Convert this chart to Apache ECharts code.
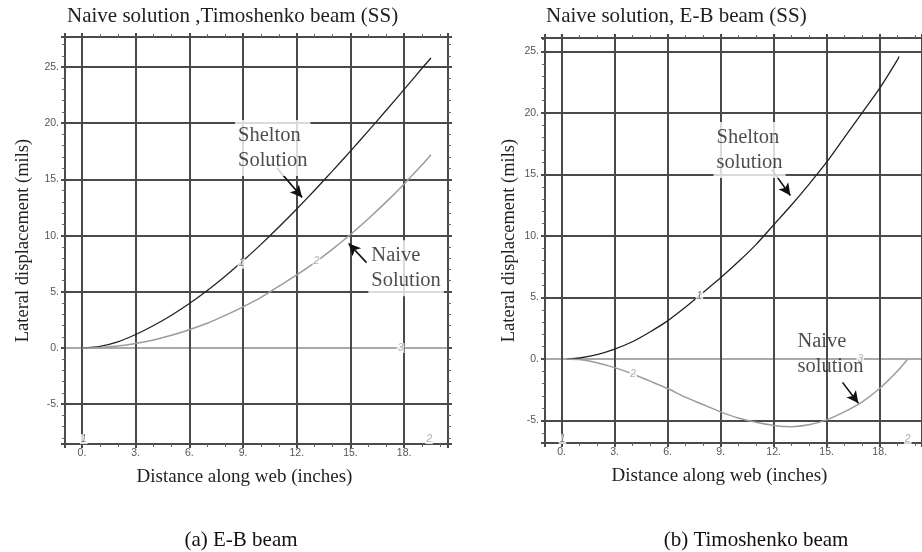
<!DOCTYPE html>
<html><head><meta charset="utf-8">
<script src="https://cdn.jsdelivr.net/npm/echarts/dist/echarts.min.js"></script>
<style>html,body{margin:0;padding:0;background:#fff}#c{width:922px;height:552px}</style>
</head><body><div id="c"></div><script>
// ---------- data ----------
const leftX        = [0,1,2,3,4,5,6,7,8,9,10,11,12,13,14,15,16,17,18,19,19.5];
const leftShelton  = [0,0.15,0.55,1.2,2.0,2.92,3.96,5.12,6.39,7.76,9.22,10.76,12.37,14.04,15.76,17.52,19.32,21.15,23.01,24.89,25.8];
const leftNaive    = [0,0.05,0.18,0.41,0.72,1.13,1.63,2.2,2.9,3.66,4.5,5.5,6.5,7.6,8.8,10.1,11.5,13.0,14.6,16.3,17.2];

const rightSheltonX = [0.3,1,2,3,4,5,6,7,8,9,10,11,12,13,14,15,16,17,18,19,19.1];
const rightShelton  = [0,0.08,0.35,0.8,1.4,2.2,3.1,4.2,5.4,6.6,7.9,9.3,10.9,12.5,14.2,16.0,18.0,20.0,22.0,24.3,24.6];
const rightNaiveX   = [0.3,1,2,3,4,5,6,7,8,9,10,11,12,13,14,15,16,17,18,19,19.6];
const rightNaive    = [0,-0.05,-0.3,-0.7,-1.2,-1.8,-2.4,-3.1,-3.7,-4.3,-4.8,-5.15,-5.4,-5.5,-5.35,-4.95,-4.3,-3.5,-2.4,-1.0,0];

const leftRange  = {xmin:-0.95, xmax:20.45, ymin:-8.54, ymax:27.67};
const rightRange = {xmin:-0.94, xmax:20.4,  ymin:-6.83, ymax:26.1};

// curve number labels [x, y, text, dark?]
const leftCurveTags  = [[8.9,7.5,'1',1],[13.1,7.7,'2',0],[17.8,0,'3',0],[0.1,-8.1,'1',1],[19.4,-8.1,'2',0]];
const rightCurveTags = [[7.8,5.1,'1',1],[4.05,-1.2,'2',0],[16.9,0,'3',0],[0.05,-6.5,'1',1],[19.6,-6.5,'2',0]];

// annotations [x, y, text, whiteBackground]
const leftNotes  = [[8.55,17.8,'Shelton\nSolution',1],[16.0,7.1,'Naive\nSolution',1]];
const rightNotes = [[8.6,17.0,'Shelton\nsolution',1],[13.35,0.4,'Naive\nsolution',0]];
// arrows [x0, y0, x1, y1]
const leftArrows  = [[10.9,16.0,12.3,13.4],[15.9,7.6,14.9,9.3]];
const rightArrows = [[11.9,15.4,12.95,13.3],[15.9,-1.9,16.8,-3.6]];

const titles   = ['Naive solution ,Timoshenko beam (SS)','Naive solution, E-B beam (SS)'];
const captions = ['(a) E-B beam','(b) Timoshenko beam'];
const xName = 'Distance along web (inches)';
const yName = 'Lateral displacement (mils)';

// ---------- styling ----------
const G = '#4a4a4a';
const SERIF = 'Liberation Serif';
const pairs = (xs, ys) => xs.map((x, i) => [x, ys[i]]);

function xAxisDef(gi, r, pos, main, namePad) {
  return {
    type:'value', gridIndex:gi, min:r.xmin, max:r.xmax, splitNumber:7, position:pos,
    axisLine:{show:true,onZero:false,lineStyle:{color:G,width:2}},
    axisTick:{show:true,inside:false,length:4,lineStyle:{color:G,width:2}},
    minorTick:{show:true,splitNumber:3,length:3,lineStyle:{color:'#666',width:1}},
    splitLine:{show:main,lineStyle:{color:G,width:2}},
    axisLabel:{show:main,showMinLabel:false,showMaxLabel:false,formatter:v=>v+'.',
      fontFamily:'Liberation Sans',fontSize:10.5,color:'#555',margin:4},
    name: main ? xName : '', nameLocation:'middle', nameGap:24,
    nameTextStyle:{fontFamily:SERIF,fontSize:19,color:'#1e1e1e',padding:[0,namePad,0,0]}
  };
}
function yAxisDef(gi, r, pos, main, gap) {
  const cols = [G,G,'#aaaaaa',G,G,G,G,G,G,G];
  return {
    type:'value', gridIndex:gi, min:r.ymin, max:r.ymax, splitNumber:8, position:pos,
    axisLine:{show:true,onZero:false,lineStyle:{color:G,width:2}},
    axisTick:{show:true,inside:false,length:4,lineStyle:{color:G,width:2}},
    minorTick:{show:true,splitNumber:5,length:3,lineStyle:{color:'#666',width:1}},
    splitLine:{show:main,lineStyle:{color:cols,width:2}},
    axisLabel:{show:main,showMinLabel:false,showMaxLabel:false,formatter:v=>v+'.',
      fontFamily:'Liberation Sans',fontSize:10.5,color:'#555',margin:6},
    name: main ? yName : '', nameLocation:'middle', nameGap:gap, nameRotate:90,
    nameTextStyle:{fontFamily:SERIF,fontSize:18.5,color:'#1e1e1e'}
  };
}
function curve(gi, data, color, width) {
  return {type:'line', xAxisIndex:gi*2, yAxisIndex:gi*2, data, smooth:0.25, symbol:'none',
    lineStyle:{color,width}, z:3, silent:true};
}
function tags(gi, arr) {
  return {type:'scatter', xAxisIndex:gi*2, yAxisIndex:gi*2, symbolSize:0, silent:true, z:4,
    data: arr.map(t => ({value:[t[0],t[1]], label:{formatter:t[2], color: t[3] ? '#555' : '#9a9a9a'}})),
    label:{show:true,position:'inside',fontFamily:'Liberation Sans',fontSize:10,fontStyle:'italic',
      backgroundColor:'#fff',padding:[0,1]}};
}
function notes(gi, arr, arrows) {
  return {type:'scatter', xAxisIndex:gi*2, yAxisIndex:gi*2, symbolSize:0, silent:true, z:5,
    data: arr.map(n => ({value:[n[0],n[1]], label:{formatter:n[2],
      backgroundColor: n[3] ? '#fff' : 'transparent', padding: n[3] ? [3,3] : 0}})),
    label:{show:true,position:'inside',align:'left',verticalAlign:'middle',
      fontFamily:SERIF,fontSize:20.5,lineHeight:25,color:'#1e1e1e'},
    markLine:{silent:true, symbol:['none','arrow'], symbolSize:[9,12], label:{show:false},
      lineStyle:{color:'#111',width:1.6,type:'solid'}, animation:false,
      data: arrows.map(a => [{coord:[a[0],a[1]]},{coord:[a[2],a[3]]}])}};
}

const titleStyle = {fontFamily:SERIF,fontSize:21,fontWeight:'normal',color:'#1e1e1e'};
const option = {
  animation:false,
  backgroundColor:'#fff',
  title:[
    {text:titles[0], left:67, top:6, padding:0, textStyle:titleStyle},
    {text:titles[1], left:546, top:6, padding:0, textStyle:titleStyle}
  ],
  grid:[
    {left:65, top:37, width:383, height:407},
    {left:545, top:38, width:382, height:405}
  ],
  xAxis:[
    xAxisDef(0,leftRange,'bottom',true,24), xAxisDef(0,leftRange,'top',false,0),
    xAxisDef(1,rightRange,'bottom',true,28), xAxisDef(1,rightRange,'top',false,0)
  ],
  yAxis:[
    yAxisDef(0,leftRange,'left',true,32), yAxisDef(0,leftRange,'right',false,0),
    yAxisDef(1,rightRange,'left',true,26), yAxisDef(1,rightRange,'right',false,0)
  ],
  series:[
    curve(0, pairs(leftX,leftShelton), '#222', 1.3),
    curve(0, pairs(leftX,leftNaive), '#9c9c9c', 1.5),
    curve(1, pairs(rightSheltonX,rightShelton), '#222', 1.3),
    curve(1, pairs(rightNaiveX,rightNaive), '#9c9c9c', 1.5),
    tags(0, leftCurveTags), tags(1, rightCurveTags),
    notes(0, leftNotes, leftArrows), notes(1, rightNotes, rightArrows)
  ],
  graphic:[
    {type:'text', x:241, y:540, style:{text:captions[0], textAlign:'center', textVerticalAlign:'middle', font:'21px "Liberation Serif"', fill:'#111'}},
    {type:'text', x:756, y:540, style:{text:captions[1], textAlign:'center', textVerticalAlign:'middle', font:'21px "Liberation Serif"', fill:'#111'}}
  ]
};
const chart = echarts.init(document.getElementById('c'), null, {renderer:'canvas'});
chart.setOption(option);
</script></body></html>
